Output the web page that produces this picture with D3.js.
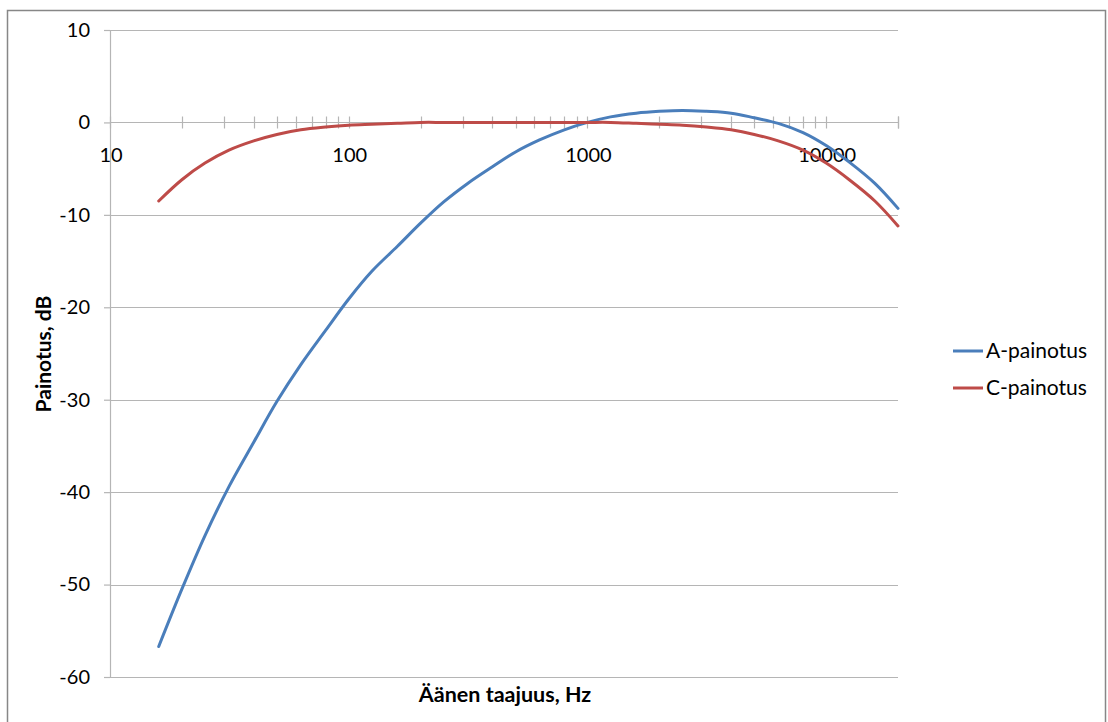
<!DOCTYPE html>
<html>
<head>
<meta charset="utf-8">
<script src="https://cdn.jsdelivr.net/npm/d3@7"></script>
<style>
  body { margin: 0; background: #ffffff; }
  svg text { font-family: Lato, "Open Sans", sans-serif; fill: #000; }
</style>
</head>
<body>
<div id="chart"></div>
<script>
// Frequencies (Hz) of the 1/3 octave bands
var freqs = [16, 20, 25, 31.5, 40, 50, 63, 80, 100, 125, 160, 200, 250, 315, 400, 500,
             630, 800, 1000, 1250, 1600, 2000, 2500, 3150, 4000, 5000, 6300, 8000,
             10000, 12500, 16000, 20000];

// A-weighting values (dB)
var aWeight = [-56.7, -50.5, -44.7, -39.4, -34.6, -30.2, -26.2, -22.5, -19.1, -16.1, -13.4,
               -10.9, -8.6, -6.6, -4.8, -3.2, -1.9, -0.8, 0, 0.6, 1.0, 1.2, 1.3, 1.2, 1.0,
               0.5, -0.1, -1.1, -2.5, -4.3, -6.6, -9.3];

// C-weighting values (dB)
var cWeight = [-8.5, -6.2, -4.4, -3.0, -2.0, -1.3, -0.8, -0.5, -0.3, -0.2, -0.1, 0, 0, 0, 0, 0,
               0, 0, 0, 0, -0.1, -0.2, -0.3, -0.5, -0.8, -1.3, -2.0, -3.0, -4.4, -6.2, -8.5, -11.2];

var seriesNames = ["A-painotus", "C-painotus"];
var seriesColors = ["#4a7ebb", "#be4b48"];
var yTicks = [10, 0, -10, -20, -30, -40, -50, -60];
var xMajorTicks = [10, 100, 1000, 10000];

var width = 1108;
var height = 722;

var svg = d3.select("#chart").append("svg")
  .attr("width", width)
  .attr("height", height);

// Outer chart frame
svg.append("rect")
  .attr("x", 7.5)
  .attr("y", 10.5)
  .attr("width", 1098)
  .attr("height", 740)
  .attr("fill", "none")
  .attr("stroke", "#878787")
  .attr("stroke-width", 1.5);

// Scales
var xScale = d3.scaleLog().domain([10, 20000]).range([110, 898]);
var yScale = d3.scaleLinear().domain([-60, 10]).range([677, 30]);

var gridColor = "#b5b5b5";

// Horizontal gridlines + y ticks (plain hyphen minus like the original)
var yAxis = d3.axisLeft(yScale)
  .tickValues(yTicks)
  .tickSize(6)
  .tickPadding(14)
  .tickFormat(function(d) { return String(d); });

var yAxisGroup = svg.append("g")
  .attr("transform", "translate(110,0)")
  .call(yAxis);
yAxisGroup.select(".domain").attr("stroke", gridColor).attr("stroke-width", 1.2);
yAxisGroup.selectAll(".tick line").attr("stroke", gridColor).attr("stroke-width", 1.2);
yAxisGroup.selectAll(".tick text").style("font-size", "20px").attr("fill", "#000");

svg.append("g").selectAll("line")
  .data(yTicks)
  .enter().append("line")
  .attr("x1", 110)
  .attr("x2", 898)
  .attr("y1", function(d) { return Math.round(yScale(d)) + 0.5; })
  .attr("y2", function(d) { return Math.round(yScale(d)) + 0.5; })
  .attr("stroke", gridColor)
  .attr("stroke-width", 1.2);

// X axis at 0 dB with crossing log ticks
var allXTicks = [];
[10, 100, 1000, 10000].forEach(function(dec) {
  for (var m = 1; m <= 9; m++) {
    if (dec * m <= 20000) allXTicks.push(dec * m);
  }
});
allXTicks.push(20000);

var y0 = Math.round(yScale(0)) + 0.5;
svg.append("g").selectAll("line")
  .data(allXTicks)
  .enter().append("line")
  .attr("x1", function(d) { return Math.round(xScale(d)) + 0.5; })
  .attr("x2", function(d) { return Math.round(xScale(d)) + 0.5; })
  .attr("y1", y0 - 6)
  .attr("y2", y0 + 6)
  .attr("stroke", gridColor)
  .attr("stroke-width", 1.2);

svg.append("g").selectAll("text")
  .data(xMajorTicks)
  .enter().append("text")
  .attr("x", function(d) { return xScale(d) + 1; })
  .attr("y", 162)
  .attr("text-anchor", "middle")
  .style("font-size", "20px")
  .text(function(d) { return d; });

// Axis titles
svg.append("text")
  .attr("x", 505)
  .attr("y", 702)
  .attr("text-anchor", "middle")
  .style("font-size", "21.5px")
  .style("font-weight", "bold")
  .text("Äänen taajuus, Hz");

svg.append("text")
  .attr("transform", "translate(51,354) rotate(-90)")
  .attr("text-anchor", "middle")
  .style("font-size", "21px")
  .style("font-weight", "bold")
  .text("Painotus, dB");

// Curves
var line = d3.line()
  .x(function(d) { return xScale(d[0]); })
  .y(function(d) { return yScale(d[1]); })
  .curve(d3.curveCatmullRom.alpha(0.5));

var seriesValues = [aWeight, cWeight];
seriesValues.forEach(function(vals, i) {
  var pts = freqs.map(function(f, j) { return [f, vals[j]]; });
  svg.append("path")
    .datum(pts)
    .attr("d", line)
    .attr("fill", "none")
    .attr("stroke", seriesColors[i])
    .attr("stroke-width", 3)
    .attr("stroke-linecap", "round");
});

// Legend
var legend = svg.append("g");
seriesNames.forEach(function(name, i) {
  var ly = 351 + i * 37;
  legend.append("line")
    .attr("x1", 953)
    .attr("x2", 983)
    .attr("y1", ly)
    .attr("y2", ly)
    .attr("stroke", seriesColors[i])
    .attr("stroke-width", 3);
  legend.append("text")
    .attr("x", 986)
    .attr("y", ly + 7)
    .style("font-size", "21px")
    .text(name);
});
</script>
</body>
</html>
